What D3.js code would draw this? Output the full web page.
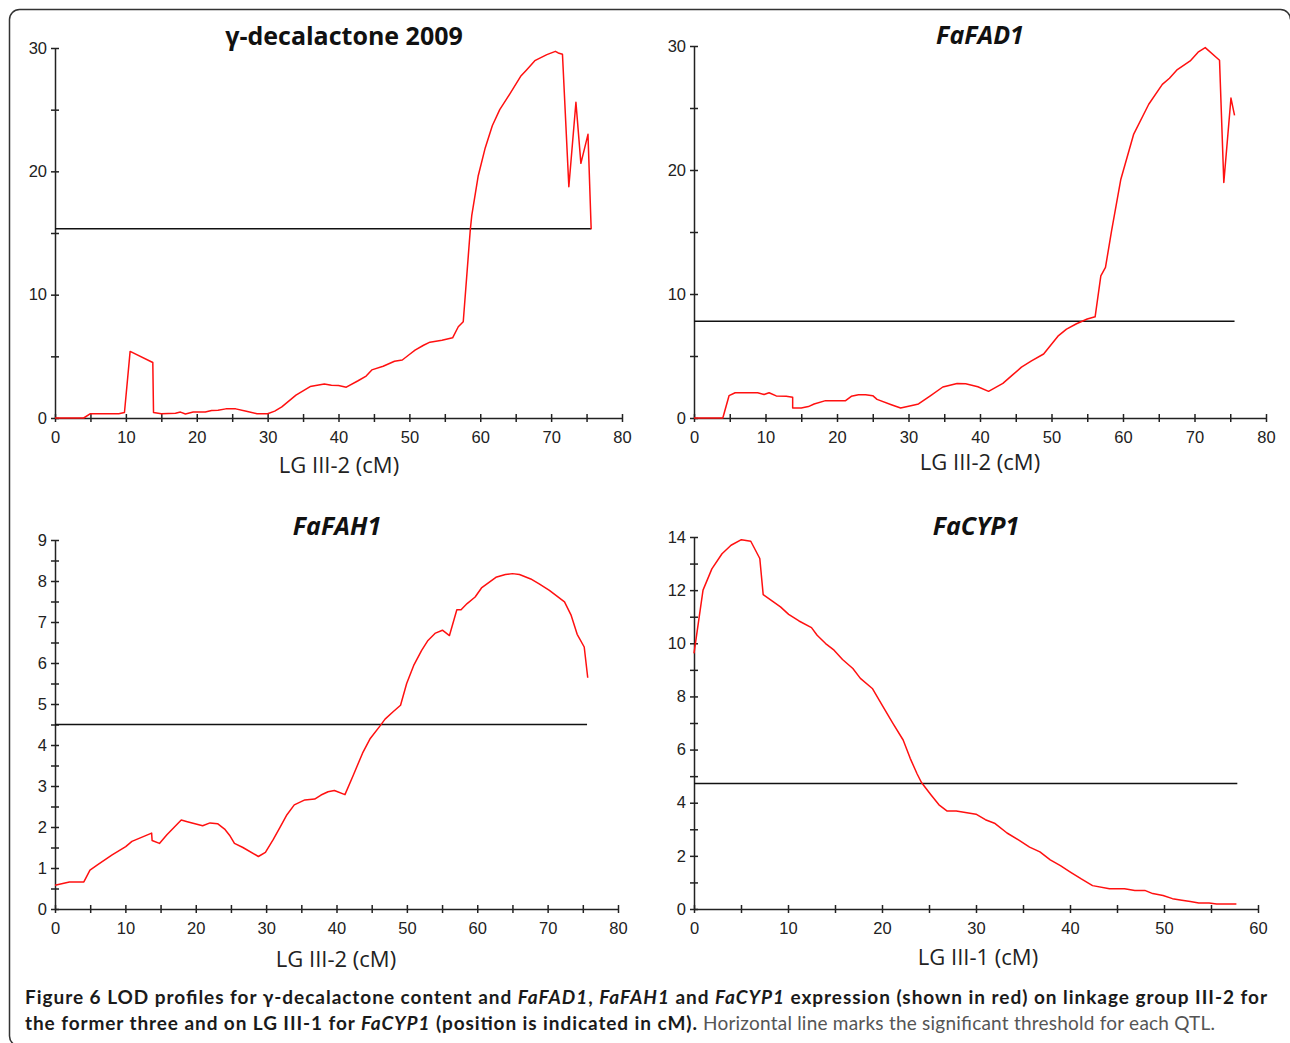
<!DOCTYPE html>
<html>
<head>
<meta charset="utf-8">
<script src="https://cdn.jsdelivr.net/npm/d3@7"></script>
<style>
  body { margin: 0; background: #fff; }
</style>
</head>
<body>
<svg id="fig" width="1290" height="1043"></svg>
<script>
// LOD profiles, [position cM, LOD]
const decaProfile = [[0,0],[4.05,0],[5,0.35],[9,0.35],[9.8,0.45],[10.6,5.4],[13.8,4.5],[13.9,0.45],[15,0.35],[17,0.38],[17.7,0.48],[18.4,0.33],[19.5,0.48],[21.2,0.48],[22.1,0.6],[23,0.62],[24.1,0.74],[25.5,0.74],[27,0.54],[28.5,0.35],[30,0.35],[31,0.56],[32,0.9],[34,1.85],[36,2.55],[38,2.76],[39,2.65],[40,2.63],[41.1,2.5],[42.7,3.0],[43.9,3.4],[44.7,3.9],[46.3,4.2],[47.9,4.6],[49,4.7],[50,5.15],[50.8,5.5],[52,5.9],[52.9,6.15],[54.6,6.3],[56.1,6.5],[56.9,7.4],[57.6,7.8],[58.6,15.3],[58.8,16.4],[59.7,19.6],[60.7,21.9],[61.7,23.7],[62.75,25.0],[64.2,26.3],[65.7,27.7],[66.5,28.2],[67.7,28.97],[69.4,29.46],[70.6,29.73],[71,29.6],[71.6,29.5],[72.5,18.75],[73.5,25.6],[74.2,20.65],[75.2,23.0],[75.65,15.3]]
const fadProfile = [[0,0],[4.03,0],[4.9,1.8],[5.76,2.04],[8.9,2.04],[9.8,1.9],[10.5,2.04],[11.5,1.78],[12.9,1.75],[13.8,1.68],[13.8,0.81],[15,0.81],[16,0.92],[16.8,1.13],[18.4,1.4],[21.2,1.4],[22,1.75],[23,1.88],[24,1.88],[25,1.8],[25.6,1.5],[27.6,1.07],[28.9,0.8],[30.8,1.05],[31.4,1.13],[33.1,1.8],[34.8,2.5],[36.8,2.78],[38,2.77],[39.7,2.52],[41.2,2.15],[43.2,2.79],[44.6,3.5],[45.8,4.1],[47.2,4.6],[48.9,5.16],[50.9,6.6],[52.1,7.17],[53.5,7.6],[55,7.98],[56.1,8.16],[56.9,11.47],[57.55,12.14],[58.4,15.1],[59.7,19.26],[61.5,22.9],[63.6,25.3],[65.5,26.9],[66.5,27.4],[67.6,28.1],[69.4,28.8],[70.5,29.5],[71.5,29.87],[73.5,28.85],[74.1,18.99],[75.1,25.8],[75.6,24.4]]
const fahProfile = [[0,0.58],[2.05,0.66],[4.1,0.66],[4.97,0.95],[6.08,1.08],[8.12,1.32],[10.05,1.52],[10.93,1.65],[13.73,1.85],[13.8,1.67],[14.84,1.6],[15.9,1.81],[17.94,2.17],[18.8,2.13],[20.98,2.03],[22.03,2.1],[23.1,2.08],[24.1,1.95],[24.8,1.8],[25.5,1.6],[26.7,1.5],[28.9,1.28],[29.9,1.38],[31,1.69],[31.97,1.99],[32.96,2.3],[34,2.54],[35.5,2.66],[36.9,2.68],[37.8,2.78],[38.8,2.86],[39.7,2.89],[41.2,2.79],[42.4,3.27],[43.7,3.8],[44.8,4.16],[46.3,4.49],[46.9,4.63],[48.04,4.81],[49.1,4.97],[49.97,5.5],[50.97,5.94],[52.1,6.31],[53,6.55],[54.06,6.73],[55.05,6.8],[56.05,6.67],[57.1,7.3],[57.7,7.3],[58.56,7.45],[59.7,7.61],[60.6,7.83],[62.65,8.09],[64,8.16],[65,8.18],[66,8.16],[67.6,8.05],[68.8,7.93],[70.25,7.77],[72.4,7.49],[73.35,7.16],[74.2,6.7],[75.2,6.39],[75.7,5.64]]
const cypProfile = [[0,9.62],[0.96,12.0],[1.9,12.8],[2.98,13.37],[3.94,13.69],[5.04,13.9],[6.04,13.84],[7.0,13.19],[7.36,11.83],[8.3,11.6],[9.2,11.37],[10.07,11.09],[11.17,10.84],[12.5,10.59],[13.1,10.3],[14.0,9.99],[14.9,9.74],[15.8,9.39],[16.9,9.05],[17.7,8.68],[18.97,8.3],[20.06,7.64],[21.16,6.99],[22.25,6.36],[23.0,5.67],[23.74,5.08],[24.2,4.76],[25.2,4.3],[26.06,3.92],[26.9,3.69],[27.9,3.69],[30.0,3.57],[31.0,3.36],[31.97,3.23],[33.3,2.86],[34.6,2.58],[35.7,2.33],[36.8,2.15],[37.9,1.85],[38.98,1.63],[40.08,1.38],[41.2,1.13],[42.4,0.88],[44.2,0.76],[45.8,0.76],[46.9,0.7],[47.96,0.7],[48.8,0.58],[49.9,0.51],[50.9,0.39],[51.9,0.33],[52.8,0.28],[53.7,0.23],[54.8,0.23],[55.6,0.19],[57.7,0.19]]

// significance thresholds [LOD, end of line in cM]
const decaThreshold = [15.35, 75.65]
const fadThreshold = [7.8, 75.6]
const fahThreshold = [4.5, 75.6]
const cypThreshold = [4.72, 57.8]

const titles = ["γ-decalactone 2009", "FaFAD1", "FaFAH1", "FaCYP1"]
const xLabels = ["LG III-2 (cM)", "LG III-2 (cM)", "LG III-2 (cM)", "LG III-1 (cM)"]
const xMaxes = [80, 80, 80, 60]
const yMaxes = [30, 30, 9, 14]
const yMajorSteps = [10, 10, 1, 2]
const yMinorSteps = [5, 5, 0.5, 1]

const svg = d3.select("#fig")

// frame
svg.append("path")
  .attr("d", "M9.5,1036 V19.5 A10,10 0 0 1 19.5,9.5 H1280.5 A10,10 0 0 1 1290.5,19.5 M9.5,1036 A10,10 0 0 0 19.5,1046")
  .attr("fill", "none").attr("stroke", "#333").attr("stroke-width", 1.5)

const layout = [
  { left: 55, right: 622, top: 48, bottom: 418, titleX: 344, titleY: 45, labX: 339, labY: 473, italic: false },
  { left: 694, right: 1266, top: 46, bottom: 418, titleX: 980, titleY: 44, labX: 980, labY: 470, italic: true },
  { left: 55, right: 618, top: 540, bottom: 909, titleX: 337, titleY: 535, labX: 336, labY: 967, italic: true },
  { left: 694, right: 1258, top: 537, bottom: 909, titleX: 976, titleY: 535, labX: 978, labY: 965, italic: true }
]
const profiles = [decaProfile, fadProfile, fahProfile, cypProfile]
const thresholds = [decaThreshold, fadThreshold, fahThreshold, cypThreshold]

layout.forEach((L, i) => {
  const x = d3.scaleLinear().domain([0, xMaxes[i]]).range([L.left, L.right])
  const y = d3.scaleLinear().domain([0, yMaxes[i]]).range([L.bottom, L.top])
  const g = svg.append("g")

  const yTicks = d3.range(0, yMaxes[i] + 1e-9, yMinorSteps[i])
  const xTicks = d3.range(0, xMaxes[i] + 1e-9, 5)

  const yAxis = g.append("g")
    .attr("transform", "translate(" + L.left + ",0)")
    .call(d3.axisLeft(y).tickValues(yTicks).tickSizeInner(4).tickSizeOuter(0).tickPadding(4)
      .tickFormat(d => Math.abs(d / yMajorSteps[i] - Math.round(d / yMajorSteps[i])) < 1e-6 ? d : ""))
  yAxis.selectAll(".tick line").attr("x1", 4).attr("x2", -4)

  const xAxis = g.append("g")
    .attr("transform", "translate(0," + L.bottom + ")")
    .call(d3.axisBottom(x).tickValues(xTicks).tickSizeInner(4).tickSizeOuter(0).tickPadding(9)
      .tickFormat(d => d % 10 === 0 ? d : ""))
  xAxis.selectAll(".tick line").attr("y1", -4).attr("y2", 4)

  g.selectAll(".domain, .tick line").attr("stroke", "#222").attr("stroke-width", 1.5)
  g.selectAll(".tick text").attr("font-family", "Liberation Sans, Arial, sans-serif")
    .attr("font-size", 16.5).attr("fill", "#222")

  // threshold
  const thr = thresholds[i]
  g.append("line")
    .attr("x1", x(0)).attr("x2", x(thr[1]))
    .attr("y1", y(thr[0])).attr("y2", y(thr[0]))
    .attr("stroke", "#111").attr("stroke-width", 1.5)

  // LOD profile
  const line = d3.line().x(d => x(d[0])).y(d => y(d[1]))
  g.append("path").datum(profiles[i])
    .attr("d", line)
    .attr("fill", "none").attr("stroke", "#ff1010").attr("stroke-width", 1.5)
    .attr("stroke-linejoin", "round")

  g.append("text")
    .attr("x", L.titleX).attr("y", L.titleY)
    .attr("text-anchor", "middle")
    .attr("font-family", "Open Sans, sans-serif").attr("font-weight", 700)
    .attr("font-style", L.italic ? "italic" : "normal")
    .attr("font-size", 25).attr("fill", "#111")
    .text(titles[i])

  g.append("text")
    .attr("x", L.labX).attr("y", L.labY)
    .attr("text-anchor", "middle")
    .attr("font-family", "Open Sans, sans-serif")
    .attr("font-size", 22).attr("fill", "#222")
    .text(xLabels[i])
})

// caption
const capFont = "Lato, Open Sans, sans-serif"
const cap1 = svg.append("text").attr("x", 25).attr("y", 1004)
  .attr("font-family", capFont).attr("font-size", 19).attr("font-weight", 700).attr("fill", "#1a1a1a")
  .attr("textLength", 1242).attr("lengthAdjust", "spacing")
cap1.append("tspan").text("Figure 6 LOD profiles for γ-decalactone content and ")
cap1.append("tspan").attr("font-style", "italic").text("FaFAD1")
cap1.append("tspan").text(", ")
cap1.append("tspan").attr("font-style", "italic").text("FaFAH1")
cap1.append("tspan").text(" and ")
cap1.append("tspan").attr("font-style", "italic").text("FaCYP1")
cap1.append("tspan").text(" expression (shown in red) on linkage group III-2 for")

const cap2 = svg.append("text").attr("x", 25).attr("y", 1030)
  .attr("font-family", capFont).attr("font-size", 19).attr("font-weight", 700).attr("fill", "#1a1a1a")
  .attr("textLength", 672).attr("lengthAdjust", "spacing")
cap2.append("tspan").text("the former three and on LG III-1 for ")
cap2.append("tspan").attr("font-style", "italic").text("FaCYP1")
cap2.append("tspan").text(" (position is indicated in cM).")

svg.append("text").attr("x", 703).attr("y", 1030)
  .attr("font-family", capFont).attr("font-size", 19).attr("font-weight", 400).attr("fill", "#555")
  .attr("textLength", 512).attr("lengthAdjust", "spacing")
  .text("Horizontal line marks the significant threshold for each QTL.")
</script>
</body>
</html>
